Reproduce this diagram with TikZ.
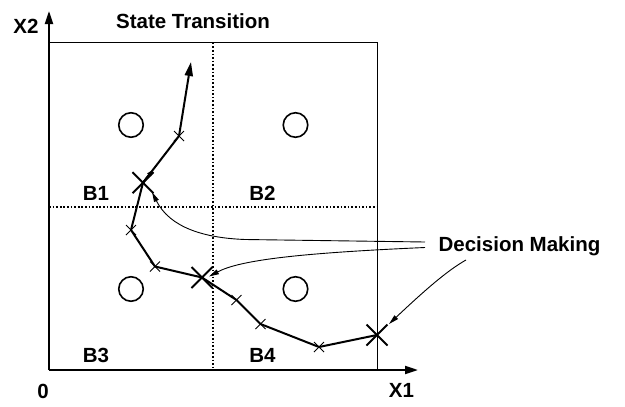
\documentclass[tikz,border=0pt]{standalone}
\usepackage{fontspec}
\setmainfont{Liberation Sans}
\usetikzlibrary{arrows.meta,calc}
\begin{document}
\begin{tikzpicture}[x=1pt,y=-1pt,
  lbl/.style={anchor=base,inner sep=0pt,font=\fontsize{20.5pt}{24pt}\selectfont\bfseries},
  axisline/.style={line width=2pt,-{Triangle[length=13pt,width=8pt]}},
  frame/.style={line width=1pt},
  dotline/.style={line width=1.7pt,dash pattern=on 1.7pt off 1.9pt},
  traj/.style={line width=2pt,line join=round},
  pointer/.style={line width=0.9pt,-{Triangle[length=10pt,width=5pt]}},
  blob/.style={circle,draw,line width=1.6pt,minimum size=24.5pt,inner sep=0pt},
  bigx/.pic={\draw[line width=2pt] (-10.5,-10.5)--(10.5,10.5) (-10.5,10.5)--(10.5,-10.5);},
  smallx/.pic={\draw[line width=1pt] (-5,-5)--(5,5) (-5,5)--(5,-5);}]
\useasboundingbox (0,0) rectangle (625,407);
% frame corners
\coordinate (O) at (49,370);
\coordinate (Ytop) at (49,11);
\coordinate (Xend) at (418,370);
\coordinate (TL) at (49,42.7);
\coordinate (TR) at (377,42.7);
\coordinate (BR) at (377,370);
\coordinate (VT) at (213,42.7);
\coordinate (VB) at (213,370);
\coordinate (HL) at (49,206.7);
\coordinate (HR) at (377,206.7);
% box and grid
\draw[frame] (TL) -- (TR) -- (BR);
\draw[dotline] (VT) -- (VB);
\draw[dotline] (HL) -- (HR);
% axes
\draw[axisline] (O) -- (Ytop);
\draw[axisline] (O) -- (Xend);
% circles
\node[blob] (c1) at (131,125) {};
\node[blob] (c2) at (295.5,125) {};
\node[blob] (c3) at (131,289) {};
\node[blob] (c4) at (295.5,289) {};
% trajectory points
\coordinate (p0) at (377,335);
\coordinate (p1) at (319,347);
\coordinate (p2) at (260.5,324);
\coordinate (p3) at (236.5,300);
\coordinate (p4) at (202,277.5);
\coordinate (p5) at (155,266.5);
\coordinate (p6) at (131,230);
\coordinate (p7) at (143,182.7);
\coordinate (p8) at (179,136);
\coordinate (p9) at (191,62);
\draw[traj] (p0) -- (p1) -- (p2) -- (p3) -- (p4) -- (p5) -- (p6) -- (p7) -- (p8);
\draw[traj,-{Triangle[length=6pt,width=4.5pt]}] (p7) -- ($(p7)!0.27!(p8)$);
\draw[traj,-{Triangle[length=14pt,width=8pt]}] (p8) -- (p9);
\pic at (p0) {bigx};
\pic at (p4) {bigx};
\pic at (p7) {bigx};
\pic at (p1) {smallx};
\pic at (p2) {smallx};
\pic at (p3) {smallx};
\pic at (p5) {smallx};
\pic at (p6) {smallx};
\pic at (p8) {smallx};
% labels
\node[lbl] (title) at (193,28) {State Transition};
\node[lbl] (x2) at (26,33) {X2};
\node[lbl] (x1) at (401.5,397) {X1};
\node[lbl] (zero) at (43,398) {0};
\node[lbl] (b1) at (96,200) {B1};
\node[lbl] (b2) at (262.5,200) {B2};
\node[lbl] (b3) at (96,362) {B3};
\node[lbl] (b4) at (262.5,362) {B4};
\node[lbl] (dm) at (519.5,251.7) {Decision Making};
% pointers
\coordinate (s1) at (425,242);
\coordinate (s1b) at (245,239.5);
\coordinate (e1) at (152,192);
\coordinate (s2) at (425,247.5);
\coordinate (e2) at (209,276.5);
\coordinate (s3) at (466,260);
\coordinate (e3) at (389,324);
\draw[pointer] (s1) -- (s1b) .. controls (205,238) and (170,228) .. (e1);
\draw[pointer] (s2) .. controls (300,253) and (240,260) .. (e2);
\draw[pointer] (s3) .. controls (448,270) and (425,290) .. (e3);
\end{tikzpicture}
\end{document}
